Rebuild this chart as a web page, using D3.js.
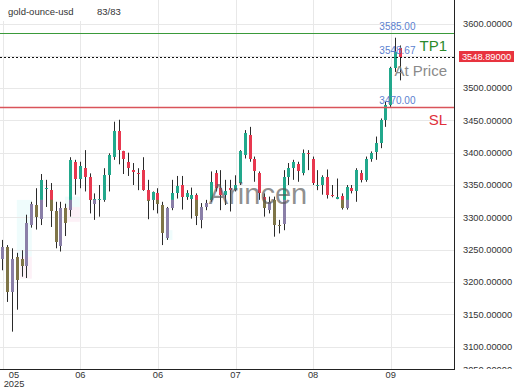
<!DOCTYPE html>
<html>
<head>
  <meta charset="utf-8">
  <title>gold-ounce-usd</title>
  <script src="https://d3js.org/d3.v7.min.js"></script>
  <style>
    body { margin: 0; background: #fff; font-family: "Liberation Sans", Arial, sans-serif; }
  </style>
</head>
<body>
<div id="chart"></div>
<script>
var width = 520, height = 390;
var plotW = 454, plotH = 369;

// ----- Data -----
var opens  = [3236,3254,3184,3239,3235,3224,3288,3319,3298,3344,3343,3309,3255,3314,3311,3386,3359,3377,3363,3321,
              3327,3327,3365,3394,3434,3402,3385,3373,3369,3373,3343,3327,3338,3319,3268,3314,3337,3350,3332,3329,
              3335,3296,3316,3327,3369,3345,3335,3346,3343,3353,3396,3427,3390,3368,3332,3311,3327,3288,3290,3363,
              3376,3382,3368,3400,3391,3349,3350,3363,3334,3329,3333,3314,3346,3340,3369,3358,3391,3401,3415,3451,
              3474,3531,3562];
var highs  = [3265,3257,3252,3245,3249,3304,3324,3345,3367,3358,3353,3324,3324,3321,3393,3389,3386,3404,3368,3337,
              3350,3376,3399,3448,3451,3403,3400,3384,3376,3393,3358,3340,3345,3324,3316,3358,3364,3364,3342,3346,
              3337,3322,3327,3371,3373,3373,3358,3358,3365,3404,3435,3440,3394,3371,3337,3332,3332,3296,3373,3384,
              3389,3386,3405,3404,3394,3373,3365,3374,3350,3360,3337,3350,3350,3376,3373,3394,3402,3425,3453,3479,
              3533,3578,3566];
var lows   = [3218,3169,3123,3157,3208,3206,3284,3281,3288,3316,3285,3252,3247,3271,3301,3335,3345,3340,3306,3296,
              3301,3324,3340,3389,3382,3367,3364,3350,3342,3341,3297,3311,3306,3257,3265,3311,3329,3312,3327,3298,
              3288,3283,3311,3324,3340,3311,3319,3309,3340,3350,3391,3386,3355,3327,3301,3306,3270,3275,3280,3350,
              3358,3355,3365,3373,3350,3342,3335,3329,3331,3328,3312,3312,3337,3324,3354,3355,3386,3389,3407,3440,
              3471,3525,3512];
var closes = [3254,3185,3236,3203,3225,3291,3321,3300,3357,3346,3309,3262,3315,3291,3389,3360,3379,3363,3327,3328,
              3328,3365,3396,3434,3404,3390,3376,3370,3368,3342,3326,3339,3321,3275,3314,3338,3348,3331,3337,3335,
              3302,3316,3322,3355,3345,3335,3340,3342,3350,3402,3430,3391,3371,3337,3314,3324,3288,3287,3363,3376,
              3386,3371,3400,3398,3353,3350,3363,3335,3333,3331,3314,3347,3340,3373,3357,3391,3399,3415,3451,3474,
              3531,3556,3548.89];

var priceTicks = [3050,3100,3150,3200,3250,3300,3350,3400,3450,3500,3550,3600];
var timeTickIdx = [0,16,32,48,64,80];
var timeTickLabels = ['05','06','06','07','08','09'];
var yearLabel = '2025';

var tp1 = 3585, sl = 3470, entry = 3548.67, lastPrice = 3548.89;
var toneLevel = 3327;   // candles below this level show muted colours

// faint shaded zones: [fromIdx, toIdx, top price, bottom price, colour]
var zoneFrom  = [2.9, 3.6, 12.8, 12.8, 33.4];
var zoneTo    = [6.0, 6.0, 15.9, 15.9, 35.0];
var zoneTop   = [3327, 3239, 3332, 3316, 3280];
var zoneBot   = [3239, 3205, 3316, 3293, 3265];
var zoneColor = ['#effcfc', '#fdf1f7', '#effcfc', '#fdf1f7', '#effcfc'];

// ----- Helpers -----
function addRect(ctx, x, y, w, h, c, atts) {
  var obj = ctx.append('rect')
    .attr('x', x).attr('y', y)
    .attr('width', w).attr('height', h)
    .attr('fill', c);
  if (atts) { for (var att of atts) obj.attr(...att); }
  return obj;
}

function addLine(ctx, x1, y1, x2, y2, c, atts) {
  var obj = ctx.append('line')
    .attr('stroke', c)
    .attr('x1', x1).attr('y1', y1)
    .attr('x2', x2).attr('y2', y2);
  if (atts) { for (var att of atts) obj.attr(...att); }
  return obj;
}

function addText(ctx, x, y, txt, size, c, atts) {
  var obj = ctx.append('text')
    .attr('x', x).attr('y', y)
    .attr('font-size', size)
    .attr('fill', c)
    .text(txt);
  if (atts) { for (var att of atts) obj.attr(...att); }
  return obj;
}

// ----- Main -----
var svg = d3.select('#chart').append('svg')
  .attr('width', width)
  .attr('height', height);

var x = d3.scaleLinear().domain([-0.56, 93.05]).range([0, plotW]);
var y = d3.scaleLinear().domain([3400, 3600]).range([152.7, 23.5]);
var px = function (v) { return Math.round(v) + 0.5; };

var defs = svg.append('defs');
defs.append('clipPath').attr('id', 'plotClip')
  .append('rect').attr('x', 0).attr('y', 0).attr('width', plotW).attr('height', plotH);
defs.append('clipPath').attr('id', 'toneClip')
  .append('rect').attr('x', 0).attr('y', y(toneLevel)).attr('width', plotW).attr('height', plotH - y(toneLevel));
defs.append('clipPath').attr('id', 'axisClip')
  .append('rect').attr('x', plotW + 1).attr('y', 0).attr('width', width - plotW).attr('height', plotH);

addRect(svg, 0, 0, width, height, '#fff');

// zones
for (var z = 0; z < zoneFrom.length; z++) {
  addRect(svg, x(zoneFrom[z]), y(zoneTop[z]), x(zoneTo[z]) - x(zoneFrom[z]),
    y(zoneBot[z]) - y(zoneTop[z]), zoneColor[z]);
}

// grid
priceTicks.forEach(function (p) {
  if (y(p) < plotH) addLine(svg, 0, px(y(p)), plotW, px(y(p)), '#e8e8e8');
});
timeTickIdx.forEach(function (i) {
  addLine(svg, px(x(i)), 0, px(x(i)), plotH, '#e8e8e8');
});

// candles
var idx = d3.range(opens.length);
var plot = svg.append('g').attr('clip-path', 'url(#plotClip)');
var upCol = '#22a88c', dnCol = '#e8384f';
var upTone = '#8a7fa8', dnTone = '#7f7547';

function bodyTop(i) { return Math.round(y(Math.max(opens[i], closes[i]))); }
function bodyH(i) { return Math.max(1, Math.round(y(Math.min(opens[i], closes[i]))) - bodyTop(i)); }

plot.selectAll('line.wick').data(idx).enter().append('line')
  .attr('class', 'wick')
  .attr('x1', function (i) { return Math.floor(x(i)) + 0.5; })
  .attr('x2', function (i) { return Math.floor(x(i)) + 0.5; })
  .attr('y1', function (i) { return y(highs[i]); })
  .attr('y2', function (i) { return y(lows[i]); })
  .attr('stroke', '#2a2a2a');

plot.selectAll('rect.body').data(idx).enter().append('rect')
  .attr('class', 'body')
  .attr('x', function (i) { return Math.floor(x(i)) - 1; })
  .attr('y', bodyTop)
  .attr('width', 3)
  .attr('height', bodyH)
  .attr('fill', function (i) { return closes[i] >= opens[i] ? upCol : dnCol; });

var tone = plot.append('g').attr('clip-path', 'url(#toneClip)');
tone.selectAll('rect').data(idx).enter().append('rect')
  .attr('x', function (i) { return Math.floor(x(i)) - 1; })
  .attr('y', bodyTop)
  .attr('width', 3)
  .attr('height', bodyH)
  .attr('fill', function (i) { return closes[i] >= opens[i] ? upTone : dnTone; });

// watermark
addText(svg, 258, 204, 'Arincen', 29, '#555', [['text-anchor', 'middle'], ['opacity', 0.65]]);

// levels
addLine(svg, 0, px(y(tp1)), plotW, px(y(tp1)), '#3a9a3a');
addLine(svg, 0, y(sl), plotW, y(sl), '#d9545a', [['stroke-width', 1.6]]);
addLine(svg, 0, px(y(entry)), plotW, px(y(entry)), '#111', [['stroke-dasharray', '2,2']]);

var lblX = x(opens.length - 1) - 3;
addText(svg, lblX, y(tp1) - 3.5, tp1.toFixed(2), 10, '#5b7fcf', [['text-anchor', 'middle']]);
addText(svg, lblX, y(entry) - 2.5, entry.toFixed(2), 10, '#5b7fcf', [['text-anchor', 'middle']]);
addText(svg, lblX, y(sl) - 3.5, sl.toFixed(2), 10, '#5b7fcf', [['text-anchor', 'middle']]);

addText(svg, 447, y(tp1) + 18, 'TP1', 15, '#2b8a2b', [['text-anchor', 'end']]);
addText(svg, 447, y(entry) + 19, 'At Price', 15, '#8a8a8a', [['text-anchor', 'end']]);
addText(svg, 447, y(sl) + 18, 'SL', 15, '#e0303a', [['text-anchor', 'end']]);

// borders
addLine(svg, plotW + 0.5, 0, plotW + 0.5, plotH + 1, '#222');
addLine(svg, 0, plotH + 0.5, plotW + 1, plotH + 0.5, '#222');

// right axis
var axisG = svg.append('g').attr('clip-path', 'url(#axisClip)');
priceTicks.forEach(function (p) {
  var ty = Math.min(y(p), plotH + 1);
  addText(axisG, 463, ty + 3.3, p.toFixed(5), 9.3, '#333');
});
addRect(svg, 459, y(lastPrice) - 5.5, 55, 11, '#e8333f');
addText(svg, 486.5, y(lastPrice) + 3.3, lastPrice.toFixed(5), 9.3, '#fff', [['text-anchor', 'middle']]);

// time axis
timeTickIdx.forEach(function (i, k) {
  var tx = Math.max(x(i), 14);
  var t = addText(svg, tx, 378, timeTickLabels[k], 9.3, '#333', [['text-anchor', 'middle']]);
  if (k === 0) {
    t.append('tspan').attr('x', tx).attr('dy', 8.6).text(yearLabel);
  }
});

// header
addRect(svg, 0, 0, 157, 21, '#fff');
addText(svg, 8, 15, 'gold-ounce-usd', 9.5, '#333');
addText(svg, 97, 15, opens.length + '/' + opens.length, 9.5, '#333');
</script>
</body>
</html>
